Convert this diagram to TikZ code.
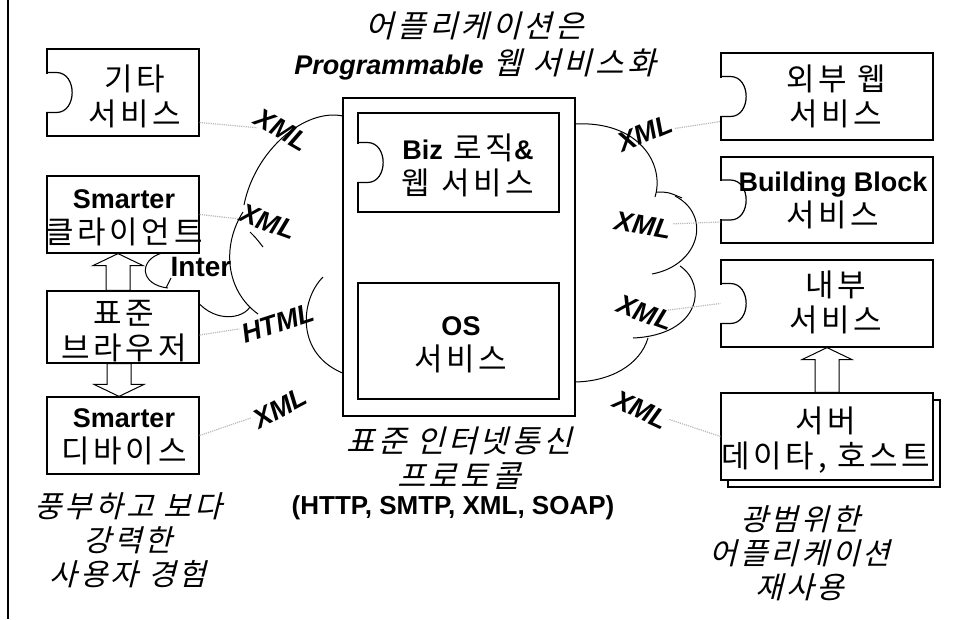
\documentclass[tikz,border=0pt]{standalone}
\usepackage{fontspec}
\setmainfont{Liberation Sans}
\newfontfamily\kr[LetterSpace=12]{Noto Sans CJK KR}
\newfontfamily\krit[FakeSlant=0.25,LetterSpace=10]{Noto Sans CJK KR}
\usetikzlibrary{calc}

\newcommand{\bld}[1]{{\rmfamily\bfseries\fontsize{27}{35}\selectfont #1}}
\newcommand{\notch}[1]{%
	\fill[white] ([shift={(-2,-19)}]#1.west) rectangle ([shift={(2,19)}]#1.west);
	\draw[line width=1.2pt] ([shift={(0,-20)}]#1.west) -- ++(10,0) .. controls +(21,0) and +(21,0) .. ([shift={(10,20)}]#1.west) -- ++(-10,0);
}
\newcommand{\blockarrow}[3]{%
	\draw[line width=1pt,fill=white] ([xshift=-12pt]#1) -- ([shift={(-12,#3)}]#2) -- ([shift={(-25,#3)}]#2) -- (#2) -- ([shift={(25,#3)}]#2) -- ([shift={(12,#3)}]#2) -- ([xshift=12pt]#1) -- cycle;
}

\begin{document}
\begin{tikzpicture}[x=1pt,y=-1pt,
	piece/.style={draw,line width=1.2pt,fill=white,inner sep=0pt},
	txt/.style={align=center,inner sep=0pt,font=\kr\fontsize{31}{35}\selectfont},
	italictxt/.style={align=center,inner sep=0pt,font=\krit\fontsize{30}{34}\selectfont},
	tag/.style={font=\fontsize{27}{27}\selectfont\bfseries\itshape,inner sep=1pt},
	halo/.style={gray!55,densely dotted,line width=1.2pt},
	puff/.style={line width=1pt}]
		\useasboundingbox (0,0) rectangle (956,619);
		\draw[line width=2.5pt] (8,0) -- (8,619);
		\draw[puff] (343,116) .. controls (305,108) and (255,150) .. (244,205);
		\draw[puff] (243,212) .. controls (222,245) and (225,290) .. (258,314);
		\draw[puff] (250,232) .. controls (256,238) .. (263,247);
		\draw[puff] (162,253) .. controls (138,260) and (140,285) .. (168,288);
		\draw[puff] (166,288) .. controls (168,283) .. (171,278);
		\draw[puff] (190,290) .. controls (205,322) and (240,322) .. (250,307);
		\draw[puff] (323,277) .. controls (300,300) and (295,355) .. (345,374);
		\draw[puff] (573,124) .. controls (640,120) and (665,165) .. (655,197);
		\draw[puff] (656,192) .. controls (668,192) .. (682,198);
		\draw[puff] (675,196) .. controls (712,215) and (700,265) .. (652,274);
		\draw[puff] (680,266) .. controls (708,285) and (700,335) .. (633,338);
		\draw[puff] (648,338) .. controls (640,365) and (610,382) .. (573,382);
		\node[piece,minimum width=152pt,minimum height=87pt] (other) at (123,92.5) {};
		\notch{other}
		\node[piece,minimum width=152pt,minimum height=77pt] (client) at (123,214.5) {};
		\node[piece,minimum width=152pt,minimum height=72pt] (browser) at (123,327) {};
		\node[piece,minimum width=152pt,minimum height=77pt] (device) at (123,435.5) {};
		\node[piece,minimum width=232pt,minimum height=318pt] (platform) at (459,257) {};
		\node[piece,minimum width=201pt,minimum height=99pt] (biz) at (458.5,162.5) {};
		\notch{biz}
		\node[piece,minimum width=201pt,minimum height=116pt] (os) at (458.5,341) {};
		\node[piece,minimum width=212pt,minimum height=87pt] (extweb) at (827,96.5) {};
		\notch{extweb}
		\node[piece,minimum width=212pt,minimum height=86pt] (block) at (827,200) {};
		\notch{block}
		\node[piece,minimum width=212pt,minimum height=87pt] (inner) at (827,303.5) {};
		\notch{inner}
		\node[piece,minimum width=212pt,minimum height=87pt] (serverbk) at (834,443.5) {};
		\node[piece,minimum width=212pt,minimum height=87pt] (server) at (827,436.5) {};
		\coordinate (upa) at ([xshift=-5pt]browser.north);
		\coordinate (upb) at ([xshift=-5pt]client.south);
		\blockarrow{upa}{upb}{12}
		\coordinate (dna) at ([xshift=-4pt]browser.south);
		\coordinate (dnb) at ([xshift=-4pt]device.north);
		\blockarrow{dna}{dnb}{-12}
		\blockarrow{server.north}{inner.south}{12}
		\node[txt] (othertxt) at (135,96) {기타\\서비스};
		\node[txt] (clienttxt) at (124,218) {\bld{Smarter}\\클라이언트};
		\node[txt] (browsertxt) at (124,331) {표준\\브라우저};
		\node[txt] (devicetxt) at (124,437) {\bld{Smarter}\\디바이스};
		\node[txt] (biztxt) at (468,165) {\bld{Biz} 로직\bld{\&}\\웹 서비스};
		\node[txt] (ostxt) at (461,345) {\bld{OS}\\서비스};
		\node[txt] (extwebtxt) at (836,96) {외부 웹\\서비스};
		\node[txt] (blocktxt) at (833,200) {\bld{Building Block}\\서비스};
		\node[txt] (innertxt) at (836,302) {내부\\서비스};
		\node[txt] (servertxt) at (826,440) {서버\\데이타, 호스트};
		\node[italictxt,font=\krit\fontsize{31}{37}\selectfont] (title) at (475,46) {어플리케이션은\\{\rmfamily\bfseries\itshape\fontsize{27}{37}\selectfont Programmable} 웹 서비스화};
		\node[italictxt] (leftnote) at (128,540) {풍부하고 보다\\강력한\\사용자 경험};
		\node[italictxt,font=\krit\fontsize{31}{35}\selectfont] (protocol) at (459,458) {표준 인터넷통신\\프로토콜};
		\node[inner sep=0pt,font=\fontsize{26}{26}\selectfont\bfseries] (protolist) at (453,508) {(HTTP, SMTP, XML, SOAP)};
		\node[italictxt] (rightnote) at (800,553) {광범위한\\어플리케이션\\재사용};
		\node[tag,rotate=-30] (xmlA) at (282,130) {XML};
		\node[tag,rotate=-20] (xmlB) at (268,222) {XML};
		\node[tag,rotate=18] (html) at (278,323) {HTML};
		\node[tag,rotate=28] (xmlD) at (280,408) {XML};
		\node[tag,rotate=22] (xmlE) at (645,133) {XML};
		\node[tag,rotate=-10] (xmlF) at (643,225) {XML};
		\node[tag,rotate=-20] (xmlG) at (645,313) {XML};
		\node[tag,rotate=-25] (xmlH) at (641,410) {XML};
		\node[inner sep=0pt,font=\fontsize{28}{28}\selectfont\bfseries] (inter) at (201,267) {Inter};
		\draw[halo] ([yshift=-30pt]other.east) -- (xmlA);
		\draw[halo] (client.east) -- (xmlB);
		\draw[halo] ([yshift=-8pt]browser.east) -- (html);
		\draw[halo] (device.east) -- (xmlD);
		\draw[halo] (xmlE) -- ([yshift=-25pt]extweb.west);
		\draw[halo] (xmlF) -- ([yshift=-22pt]block.west);
		\draw[halo] (xmlG) -- (inner.west);
		\draw[halo] (xmlH) -- (server.west);
\end{tikzpicture}
\end{document}
